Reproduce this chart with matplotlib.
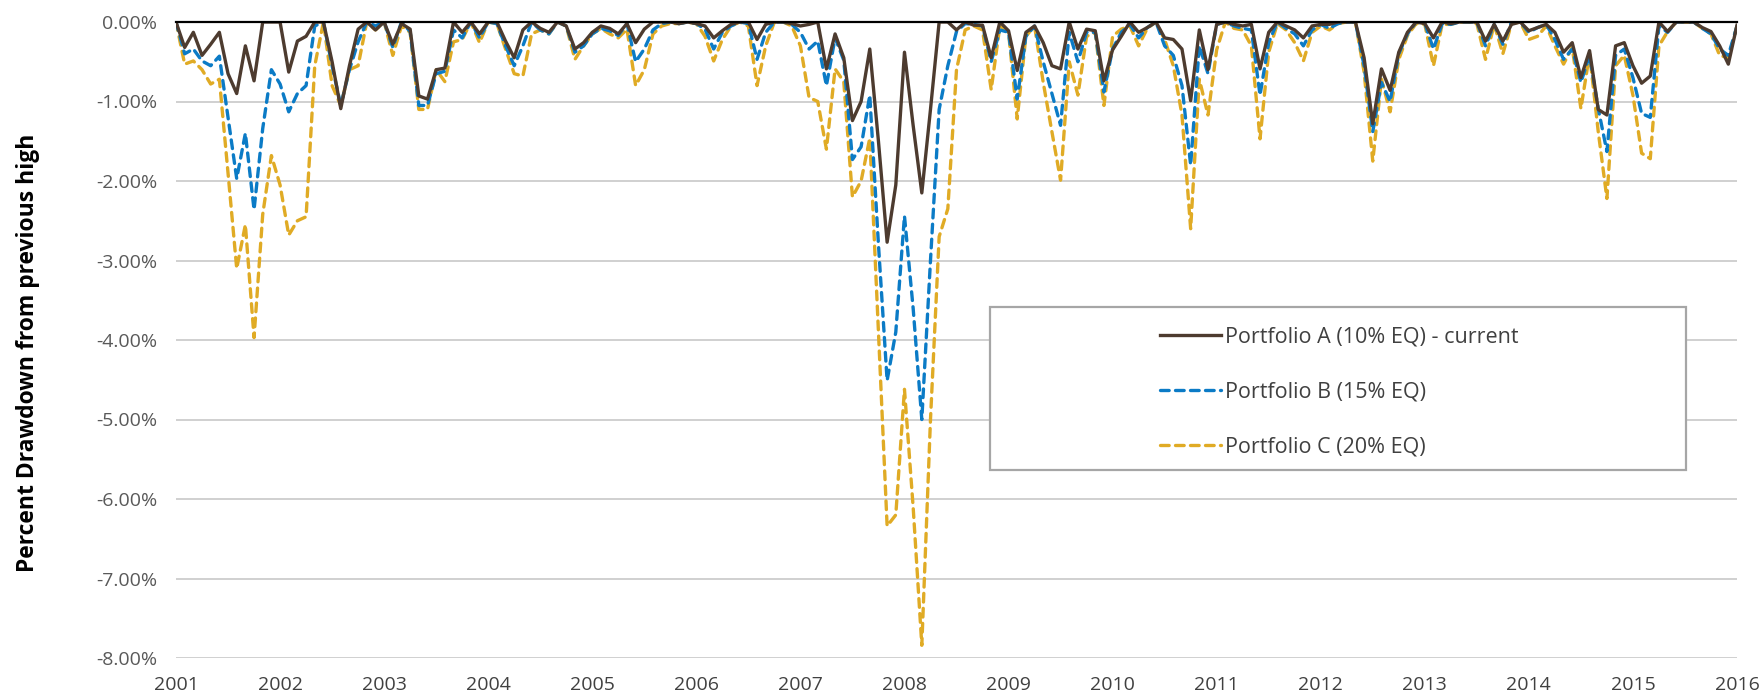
import matplotlib
matplotlib.use("Agg")
import matplotlib.pyplot as plt
from matplotlib.patches import Rectangle
import numpy as np

plt.rcParams['font.family'] = ['Open Sans', 'DejaVu Sans']

# Monthly drawdown (%) from Jan 2001 to Jan 2016
portfolio_a = [
    0, -0.32, -0.13, -0.42, -0.28, -0.13, -0.65, -0.9, -0.3, -0.74, 0, 0,
    0, -0.63, -0.24, -0.18, 0, 0, -0.5, -1.09, -0.55, -0.09, 0, -0.1,
    0, -0.28, -0.02, -0.09, -0.93, -0.97, -0.6, -0.58, 0, -0.13, 0, -0.15,
    0, 0, -0.24, -0.45, -0.1, 0, -0.08, -0.13, 0, -0.05, -0.34, -0.26,
    -0.13, -0.05, -0.08, -0.15, -0.02, -0.26, -0.09, 0, 0, 0, -0.02, 0,
    -0.02, -0.05, -0.2, -0.11, -0.03, 0, 0, -0.22, -0.03, 0, 0, -0.02,
    -0.05, -0.03, 0, -0.59, -0.15, -0.45, -1.24, -1.0, -0.34, -1.5, -2.77, -2.05,
    -0.38, -1.3, -2.15, -1.1, 0, 0, -0.1, 0, -0.04, -0.04, -0.45, 0,
    -0.11, -0.61, -0.13, -0.05, -0.26, -0.55, -0.59, 0, -0.34, -0.09, -0.11, -0.74,
    -0.35, -0.18, 0, -0.13, -0.07, 0, -0.2, -0.22, -0.34, -0.99, -0.1, -0.6,
    -0.03, 0, -0.03, -0.05, -0.03, -0.59, -0.13, 0, -0.05, -0.1, -0.2, -0.05,
    -0.03, -0.03, 0, 0, 0, -0.45, -1.28, -0.59, -0.86, -0.38, -0.13, 0,
    -0.02, -0.2, 0, -0.02, 0, 0, 0, -0.24, -0.03, -0.24, -0.03, 0,
    -0.11, -0.07, -0.03, -0.13, -0.38, -0.26, -0.7, -0.36, -1.1, -1.17, -0.3, -0.26,
    -0.55, -0.77, -0.68, 0, -0.12, 0, 0, 0, -0.07, -0.12, -0.3, -0.53,
    -0.04,
]

portfolio_b = [
    0, -0.4, -0.34, -0.49, -0.55, -0.43, -1.2, -1.97, -1.4, -2.36, -1.34, -0.6,
    -0.78, -1.13, -0.9, -0.8, -0.05, 0, -0.55, -1.05, -0.6, -0.25, 0, -0.05,
    0, -0.32, 0, -0.12, -1.05, -1.05, -0.65, -0.62, -0.1, -0.2, 0, -0.2,
    0, -0.02, -0.3, -0.55, -0.3, 0, -0.1, -0.15, 0, -0.05, -0.38, -0.3,
    -0.15, -0.08, -0.11, -0.17, -0.02, -0.5, -0.34, -0.1, -0.02, 0, -0.02, 0,
    -0.02, -0.09, -0.34, -0.13, -0.05, 0, -0.02, -0.47, -0.13, 0, 0, -0.03,
    -0.13, -0.34, -0.24, -0.8, -0.2, -0.48, -1.73, -1.57, -0.92, -2.8, -4.51, -3.9,
    -2.44, -3.6, -5.0, -3.0, -1.1, -0.55, -0.12, -0.02, -0.03, -0.05, -0.5, -0.1,
    -0.13, -0.97, -0.18, -0.05, -0.5, -0.9, -1.3, -0.13, -0.5, -0.13, -0.13, -0.88,
    -0.34, -0.13, -0.03, -0.2, -0.07, 0, -0.3, -0.42, -0.8, -1.8, -0.3, -0.65,
    -0.03, 0, -0.05, -0.08, -0.1, -0.92, -0.26, 0, -0.08, -0.15, -0.3, -0.1,
    -0.03, -0.08, -0.02, 0, 0, -0.55, -1.38, -0.76, -1.0, -0.4, -0.15, 0,
    -0.02, -0.34, -0.02, -0.03, 0, 0, 0, -0.3, -0.03, -0.28, 0, 0,
    -0.13, -0.07, -0.03, -0.22, -0.47, -0.34, -0.76, -0.42, -1.09, -1.63, -0.42, -0.34,
    -0.7, -1.15, -1.2, -0.05, -0.13, 0, 0, 0, -0.08, -0.15, -0.34, -0.42,
    -0.05,
]

portfolio_c = [
    0, -0.53, -0.49, -0.6, -0.78, -0.72, -1.9, -3.1, -2.55, -3.97, -2.42, -1.68,
    -2.05, -2.68, -2.5, -2.45, -0.55, 0, -0.8, -1.05, -0.6, -0.55, 0, -0.1,
    0, -0.42, -0.05, -0.13, -1.1, -1.1, -0.6, -0.75, -0.25, -0.22, 0, -0.26,
    0, -0.02, -0.34, -0.65, -0.68, -0.15, -0.1, -0.15, 0, -0.05, -0.47, -0.3,
    -0.15, -0.08, -0.15, -0.2, -0.09, -0.8, -0.6, -0.15, -0.05, -0.02, -0.02, 0,
    -0.02, -0.18, -0.49, -0.22, -0.05, 0, -0.05, -0.8, -0.3, 0, 0, -0.05,
    -0.3, -0.95, -1.0, -1.6, -0.59, -0.75, -2.2, -2.0, -1.46, -3.9, -6.34, -6.2,
    -4.62, -6.1, -7.84, -5.0, -2.7, -2.35, -0.6, -0.1, -0.05, -0.1, -0.85, -0.05,
    -0.13, -1.22, -0.18, -0.05, -0.76, -1.38, -1.99, -0.5, -0.92, -0.18, -0.13, -1.05,
    -0.18, -0.09, -0.05, -0.3, -0.08, 0, -0.22, -0.55, -1.17, -2.6, -0.72, -1.17,
    -0.35, 0, -0.08, -0.1, -0.3, -1.47, -0.38, -0.02, -0.1, -0.26, -0.49, -0.13,
    -0.05, -0.1, -0.02, 0, 0, -0.63, -1.75, -0.72, -1.13, -0.47, -0.17, -0.02,
    -0.03, -0.55, -0.03, -0.03, 0, 0, -0.02, -0.47, -0.03, -0.4, -0.02, 0,
    -0.22, -0.18, -0.05, -0.3, -0.53, -0.32, -1.09, -0.4, -1.38, -2.22, -0.55, -0.42,
    -0.92, -1.65, -1.72, -0.3, -0.12, 0, 0, 0, -0.08, -0.15, -0.42, -0.45,
    -0.05,
]

year_labels = [str(y) for y in range(2001, 2017)]
ytick_values = [0, -1, -2, -3, -4, -5, -6, -7, -8]

series_labels = ["Portfolio A (10% EQ) - current",
                 "Portfolio B (15% EQ)",
                 "Portfolio C (20% EQ)"]

W, H = 1764, 698
fig = plt.figure(figsize=(W / 100, H / 100), dpi=100)
ax = fig.add_axes([176 / W, 1 - 658 / H, (1737 - 176) / W, (658 - 22) / H])

x = np.arange(len(portfolio_a))

dash = (0, (2.6, 1.9))
la, = ax.plot(x, portfolio_a, color='#4d3b2f', lw=2.4, solid_joinstyle='round', zorder=5)
lb, = ax.plot(x, portfolio_b, color='#0b7bc6', lw=2.4, linestyle=dash,
              dash_capstyle='round', zorder=4)
lc, = ax.plot(x, portfolio_c, color='#e0ab25', lw=2.4, linestyle=dash,
              dash_capstyle='round', zorder=3)

ax.set_xlim(0, len(portfolio_a) - 1)
ax.set_ylim(-8, 0)
ax.set_xticks(np.arange(0, len(portfolio_a), 12))
ax.set_xticklabels(year_labels)
ax.set_yticks(ytick_values)
ax.set_yticklabels([f"{v:.2f}%" for v in ytick_values])

ax.grid(axis='y', color='#c3c3c3', lw=1.1)
ax.set_axisbelow(True)
for s in ['left', 'right', 'bottom']:
    ax.spines[s].set_visible(False)
ax.spines['top'].set_color('black')
ax.spines['top'].set_linewidth(1.6)
ax.spines['top'].set_zorder(6)

ax.tick_params(axis='y', length=0, pad=13.5, labelsize=14, labelcolor='#595959')
ax.tick_params(axis='x', length=0, pad=13, labelsize=14, labelcolor='#404040')

ax.set_ylabel("Percent Drawdown from previous high", fontsize=16.5,
              fontweight='bold', color='black')
ax.yaxis.set_label_coords(-(176 - 40) / (1737 - 176), 0.48)

# legend frame
fig.patches.append(Rectangle((990 / W, 1 - 470 / H), (1686 - 990) / W, (470 - 307) / H,
                             transform=fig.transFigure, fill=True, facecolor='white',
                             edgecolor='#a6a6a6', lw=1.6, zorder=10))
leg = fig.legend([la, lb, lc], series_labels, loc='upper left',
                 bbox_to_anchor=(1160 / W, 1 - 326.5 / H), frameon=False,
                 fontsize=15.5, handlelength=2.85, handletextpad=0.15,
                 labelspacing=1.58, borderpad=0, borderaxespad=0)
leg.set_zorder(11)
for t in leg.get_texts():
    t.set_color('#404040')

fig.savefig("out.png", dpi=100, facecolor='white')
